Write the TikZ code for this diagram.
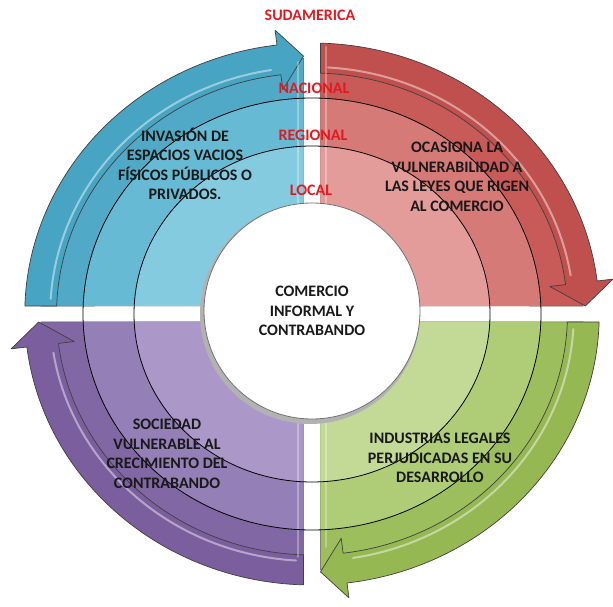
\documentclass[tikz,border=0pt]{standalone}
\usepackage{fontspec}
\setmainfont{Carlito}
\usetikzlibrary{calc}

\definecolor{cyA}{HTML}{47A4C3}
\definecolor{cyB}{HTML}{50AAC7}
\definecolor{cyC}{HTML}{67BAD3}
\definecolor{cyD}{HTML}{85CBDF}
\definecolor{rdA}{HTML}{C0504D}
\definecolor{rdB}{HTML}{C85A57}
\definecolor{rdC}{HTML}{D67A77}
\definecolor{rdD}{HTML}{E39C99}
\definecolor{grA}{HTML}{96B853}
\definecolor{grB}{HTML}{9DBE5C}
\definecolor{grC}{HTML}{AFCC77}
\definecolor{grD}{HTML}{C3DA96}
\definecolor{puA}{HTML}{7A5E9E}
\definecolor{puB}{HTML}{8267A5}
\definecolor{puC}{HTML}{957FB7}
\definecolor{puD}{HTML}{AB98C9}
\definecolor{levelred}{HTML}{E3191F}

\begin{document}
\begin{tikzpicture}[x=1pt, y=1pt]
    % Define styles
    \tikzstyle{sector} = [draw=black!65, line width=0.5pt]
    \tikzstyle{ring} = [draw=black, line width=0.8pt]
    \tikzstyle{bentarrow} = [draw=black!75, line width=0.7pt, line join=round]
    \tikzstyle{gloss} = [white, opacity=0.45, line width=2pt, line cap=round]
    \tikzstyle{level} = [text=levelred, font=\bfseries\fontsize{16}{18}\selectfont]
    \tikzstyle{effect} = [text=black!90, align=center, font=\bfseries\fontsize{16}{19.5}\selectfont]

    \useasboundingbox (0,0) rectangle (613,607);

    % Quadrants and arrows
    \begin{scope}[shift={(312,293)}, xscale=1.06]
        \foreach \rot/\qc in {0/cy, -90/rd, -180/gr, 90/pu} {
            \begin{scope}[rotate=\rot]
                \filldraw[sector, fill=\qc B] (91.79:256pt) arc[start angle=91.79, end angle=178.21, radius=256pt] -- (-8,8) -- cycle;
                \fill[\qc C] (92.12:216pt) arc[start angle=92.12, end angle=177.88, radius=216pt] -- (-8,8) -- cycle;
                \fill[\qc D] (92.73:168pt) arc[start angle=92.73, end angle=177.27, radius=168pt] -- (-8,8) -- cycle;
                \filldraw[bentarrow, fill=\qc A] (178.31:271pt) arc[start angle=178.31, end angle=97, radius=271pt]
                    -- (97:286pt) -- (91.78:258pt) -- (97:226pt) -- (97:241pt)
                    arc[start angle=97, end angle=178.10, radius=241pt] -- cycle;
                \draw[gloss] (176.5:247pt) arc[start angle=176.5, end angle=99, radius=247pt];
            \end{scope}
        }
    \end{scope}

    % Bevel highlights along the vertical gap
    \draw[gloss, opacity=0.3] (298,400) -- (298,545);
    \draw[gloss, opacity=0.3] (326,400) -- (326,560);
    \draw[gloss, opacity=0.3] (298,50) -- (298,185);
    \draw[gloss, opacity=0.3] (326,60) -- (326,185);

    % Levels
    \draw[ring] (312,293) ellipse [x radius=229pt, y radius=216pt];
    \draw[ring] (312,293) ellipse [x radius=178pt, y radius=168pt];

    % Centre
    \fill[black!30] (310,293) circle (110pt);
    \node (core) [circle, draw=black!55, line width=0.8pt, fill=white, minimum size=216pt, inner sep=0pt, effect] at (312,296) {COMERCIO\\INFORMAL Y\\CONTRABANDO};

    % Effects
    \node (invasion) [effect] at (185,443) {INVASIÓN DE\\ESPACIOS VACIOS\\FÍSICOS PÚBLICOS O\\PRIVADOS.};
    \node (ocasiona) [effect] at (457,430) {OCASIONA LA\\VULNERABILIDAD A\\LAS LEYES QUE RIGEN\\AL COMERCIO};
    \node (industrias) [effect] at (440,149) {INDUSTRIAS LEGALES\\PERJUDICADAS EN SU\\DESARROLLO};
    \node (sociedad) [effect] at (167,153) {SOCIEDAD\\VULNERABLE AL\\CRECIMIENTO DEL\\CONTRABANDO};

    % Levels labels
    \node (sudamerica) [level] at (310,592) {SUDAMERICA};
    \node (nacional) [level] at (314,519) {NACIONAL};
    \node (regional) [level] at (313,472) {REGIONAL};
    \node (local) [level] at (311,417) {LOCAL};
\end{tikzpicture}
\end{document}
